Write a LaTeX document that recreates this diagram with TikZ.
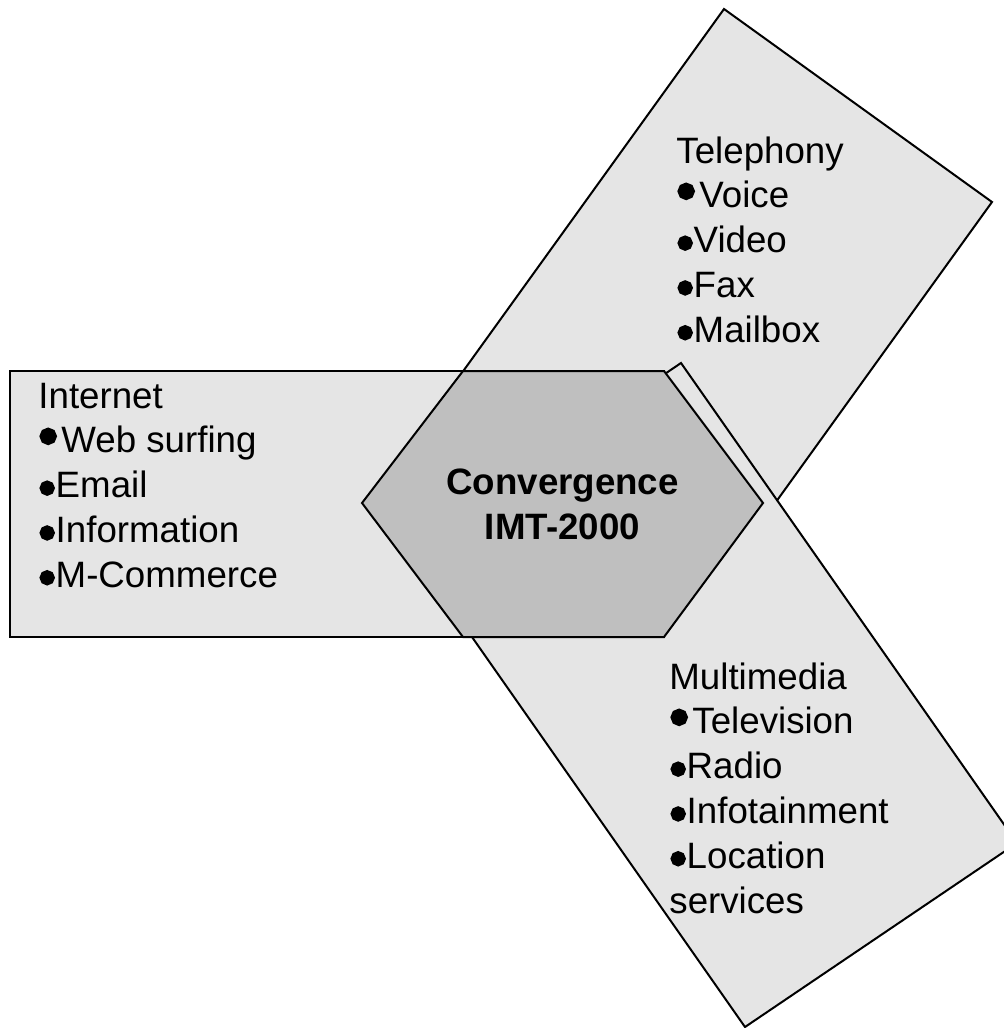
\documentclass[tikz,border=0pt]{standalone}
\usepackage{fontspec}
\setmainfont{Liberation Sans}
\newfontface\bulletface[FakeBold=11]{Liberation Sans}
\newfontface\bigbulletface[FakeBold=16]{Liberation Sans}
\usepackage{tikz}
\usetikzlibrary{calc}
\definecolor{panelgray}{gray}{0.9}
\definecolor{hexgray}{gray}{0.75}
\newcommand{\createpanel}[4]{\filldraw[panelgray] #1 -- #2 -- #3 -- #4 -- cycle; \draw[line width=1pt] #1 -- #2 -- #3 -- #4 -- cycle;}
\newcommand{\bul}{\makebox[8.65pt][l]{\hspace{0.9pt}\smash{\raisebox{-1.9pt}{\bulletface\fontsize{20pt}{20pt}\selectfont •}}}}
\newcommand{\firstbul}{\makebox[11.5pt][l]{\hspace{1.4pt}\smash{\raisebox{1.6pt}{\bigbulletface\fontsize{20pt}{20pt}\selectfont •}}}}
\tikzset{
  item/.style={anchor=base west, inner sep=0pt, font=\fontsize{18.35pt}{22.4pt}\selectfont},
  hub/.style={align=center, inner sep=0pt, font=\bfseries\fontsize{18.35pt}{22.4pt}\selectfont}
}

\begin{document}
\begin{tikzpicture}[x=0.5pt, y=-0.5pt]
        \useasboundingbox (0,0) rectangle (1003,1028);
        \( \createpanel{(724,9)}{(992,202)}{(665,656)}{(397,463)} \);
        \( \createpanel{(681,363)}{(1017,843)}{(745,1027)}{(409,547)} \);
        \( \createpanel{(10,371)}{(664,371)}{(664,637)}{(10,637)} \);
        \filldraw[fill=hexgray, draw=black, line width=1pt] (362,503) -- (463,371) -- (664,371) -- (763,503) -- (664,637) -- (463,637) -- cycle;
        \node[hub] (conv) at (562.5,504) {Convergence\\IMT-2000};
        \foreach \txt [count=\i from 0] in {Telephony, \firstbul Voice, \bul Video, \bul Fax, \bul Mailbox}
            \node[item] (tel\i) at (676,163+44.8*\i) {\txt};
        \foreach \txt [count=\i from 0] in {Internet, \firstbul Web surfing, \bul Email, \bul Information, \bul M-Commerce}
            \node[item] (net\i) at (38,408+44.8*\i) {\txt};
        \foreach \txt [count=\i from 0] in {Multimedia, \firstbul Television, \bul Radio, \bul Infotainment, \bul Location, services}
            \node[item] (mm\i) at (669,689+44.8*\i) {\txt};
    \end{tikzpicture}
\end{document}
